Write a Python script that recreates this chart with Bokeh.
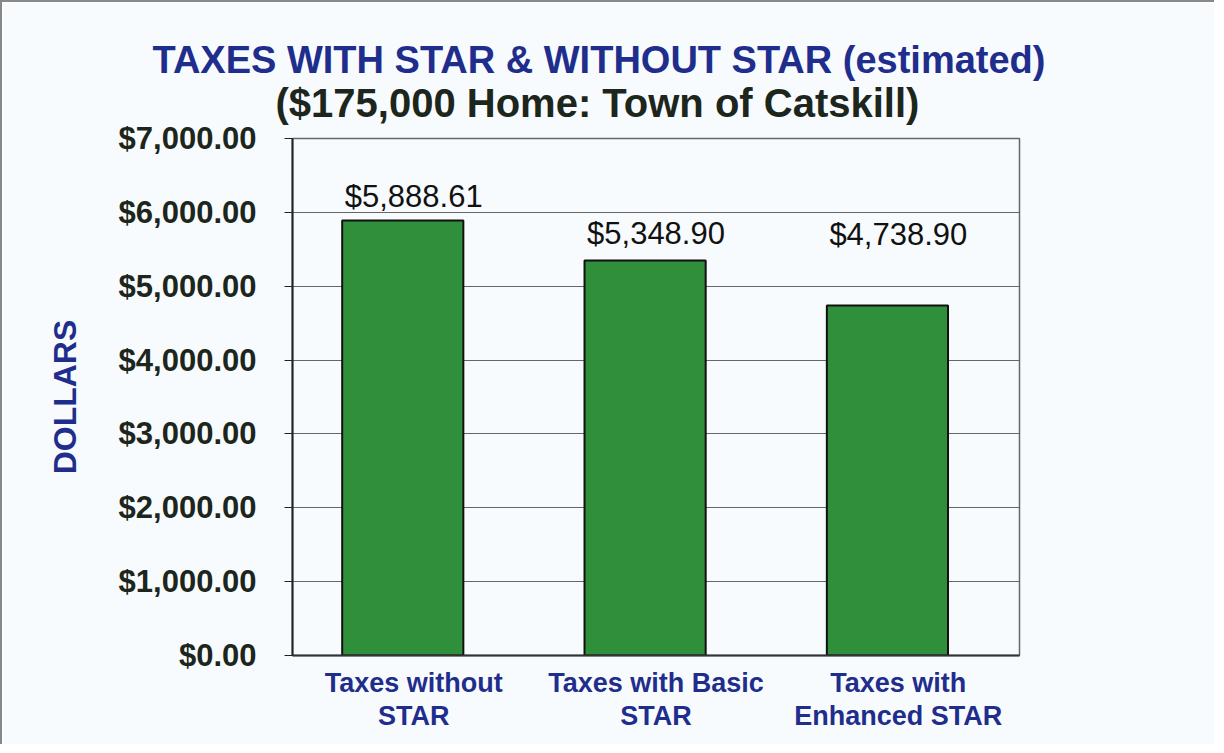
from bokeh.plotting import figure
from bokeh.models import ColumnDataSource, NumeralTickFormatter, Title, FixedTicker, Range1d
from bokeh.transform import dodge
from bokeh.core.properties import value
from bokeh.embed import file_html
from bokeh.resources import INLINE

categories = ["Taxes without\nSTAR", "Taxes with Basic\nSTAR", "Taxes with\nEnhanced STAR"]
taxes = [5888.61, 5348.90, 4738.90]
value_labels = ["$5,888.61", "$5,348.90", "$4,738.90"]
y_ticks = [0, 1000, 2000, 3000, 4000, 5000, 6000, 7000]

label_dy = [-24, -27, -71]  # pixel offsets of value labels above bar tops

FONT = "Liberation Sans"
NAVY = "#1f2d8c"
DARK = "#1c261c"
BG = "#f8fbfd"

src = ColumnDataSource(dict(cat=categories, val=taxes, lab=value_labels, dy=label_dy))

p = figure(x_range=categories, y_range=Range1d(0, 7000), width=1214, height=744,
           output_backend="svg", toolbar_location=None,
           min_border_left=290, min_border_right=197, min_border_top=136, min_border_bottom=91)
p.styles = {"border-left": "2px solid #888888", "border-top": "2px solid #888888"}
p.background_fill_color = BG
p.border_fill_color = BG
p.outline_line_color = "#666666"
p.outline_line_width = 1.5

p.vbar(x=dodge("cat", -0.045, range=p.x_range), top="val", width=0.5, source=src,
       fill_color="#2f8f3a", line_color="#111111", line_width=2)

p.text(x="cat", y="val", text="lab", source=src, x_offset=0, y_offset="dy",
       text_align="center", text_baseline="middle",
       text_font=value(FONT), text_font_size="31px", text_color="#111111")

# y axis
p.yaxis.ticker = FixedTicker(ticks=y_ticks)
p.yaxis.formatter = NumeralTickFormatter(format="$0,0.00")
p.yaxis.major_label_text_font = FONT
p.yaxis.major_label_text_font_size = "31px"
p.yaxis.major_label_text_font_style = "bold"
p.yaxis.major_label_text_color = DARK
p.yaxis.major_label_standoff = 28
p.yaxis.major_tick_out = 8
p.yaxis.major_tick_in = 0
p.yaxis.minor_tick_line_color = None
p.yaxis.axis_line_color = "#222222"
p.yaxis.axis_line_width = 2
p.yaxis.major_tick_line_color = "#222222"
p.yaxis.axis_label = "DOLLARS"
p.yaxis.axis_label_text_font = FONT
p.yaxis.axis_label_text_font_size = "32px"
p.yaxis.axis_label_text_font_style = "bold"
p.yaxis.axis_label_text_color = NAVY
p.yaxis.axis_label_standoff = 33

# x axis
p.xaxis.major_label_text_font = FONT
p.xaxis.major_label_text_font_size = "27px"
p.xaxis.major_label_text_font_style = "bold"
p.xaxis.major_label_text_color = NAVY
p.xaxis.major_label_text_line_height = 1.1
p.xaxis.major_label_standoff = 6
p.xaxis.major_tick_line_color = None
p.xaxis.axis_line_color = "#333333"
p.xaxis.axis_line_width = 2

p.xgrid.grid_line_color = None
p.ygrid.grid_line_color = "#666666"
p.ygrid.grid_line_width = 1.2

p.title = Title(text="TAXES WITH STAR & WITHOUT STAR (estimated)", align="left", offset=-140,
                text_font=FONT, text_font_size="38px", text_font_style="bold",
                text_color=NAVY, standoff=-30)
p.add_layout(Title(text="($175,000 Home: Town of Catskill)", align="left", offset=-17,
                   text_font=FONT, text_font_size="40px", text_font_style="bold",
                   text_color=DARK, standoff=27), "above")

open("out.html", "w").write(file_html(p, INLINE))
